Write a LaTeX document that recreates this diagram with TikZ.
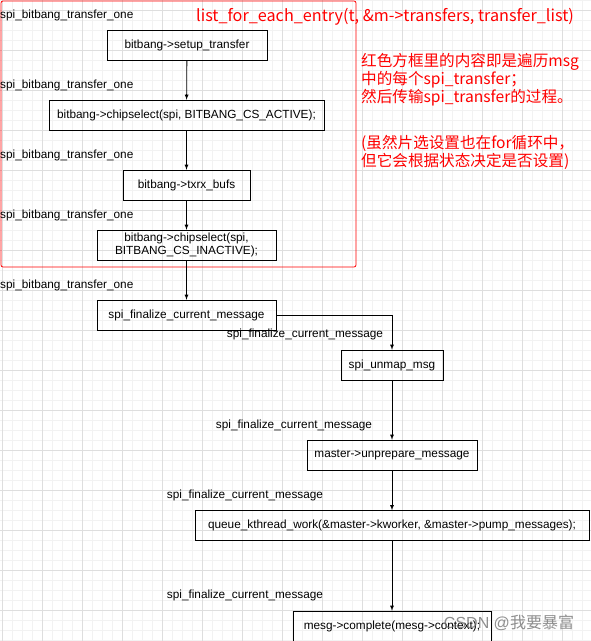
\documentclass[tikz,border=0pt]{standalone}
\usepackage{fontspec}
\setmainfont{Liberation Sans}
\newfontfamily\cjk{Noto Sans CJK SC}
\usepackage{tikz}

\begin{document}
\begin{tikzpicture}[>=latex,x=1pt,y=-1pt]
	\tikzstyle{blk}=[draw=black,rectangle,minimum height=30pt,inner sep=2pt,font=\fontsize{11.8}{13}\selectfont]
	\tikzstyle{lbl}=[inner sep=0pt,font=\fontsize{11.8}{13}\selectfont]
	\tikzstyle{note}=[text=red,inner sep=0pt,font=\cjk\fontsize{15.6}{18}\selectfont]

	\useasboundingbox (0,0) rectangle (591,641);
	\fill[white] (0,0) rectangle (591,641);

	% grid
	\foreach \i in {0,...,59} {
		\draw[black!5,line width=0.6pt] (2.3+10*\i,0) -- (2.3+10*\i,641);
	}
	\foreach \i in {0,...,64} {
		\draw[black!5,line width=0.6pt] (0,0.7+10*\i) -- (591,0.7+10*\i);
	}
	\foreach \i in {0,...,14} {
		\draw[black!13,line width=0.7pt] (2.3+40*\i,0) -- (2.3+40*\i,641);
	}
	\foreach \i in {0,...,15} {
		\draw[black!13,line width=0.7pt] (0,10.7+40*\i) -- (591,10.7+40*\i);
	}

	% red frame
	\draw[red,line width=0.8pt,rounded corners=2pt] (1,1) rectangle (356,267);
	\node[note,anchor=west,font=\cjk\fontsize{16.2}{18}\selectfont] (title) at (196,17) {list\_for\_each\_entry(t, \&m->transfers, transfer\_list)};
	\node[note,anchor=north west,align=left] (expl) at (361,53)
	{
		红色方框里的内容即是遍历msg\\
		中的每个spi\_transfer；\\
		然后传输spi\_transfer的过程。
	};
	\node[note,anchor=north west,align=left] (remark) at (361,135)
	{
		(虽然片选设置也在for循环中，\\
		但它会根据状态决定是否设置)
	};

	\node[blk,minimum width=160pt] (SETUP) at (187,45) {bitbang->setup\_transfer};
	\node[blk,minimum width=275pt] (CSA) at (186.5,115) {bitbang->chipselect(spi, BITBANG\_CS\_ACTIVE);};
	\node[blk,minimum width=127pt] (TXRX) at (186.5,185) {bitbang->txrx\_bufs};
	\node[blk,minimum width=179pt,align=center,font=\fontsize{11.8}{12.5}\selectfont] (CSI) at (186.5,245) {bitbang->chipselect(spi,\\ BITBANG\_CS\_INACTIVE);};
	\node[blk,minimum width=179pt] (FIN) at (186.5,315) {spi\_finalize\_current\_message};
	\node[blk,minimum width=102pt] (UNMAP) at (392,365) {spi\_unmap\_msg};
	\node[blk,minimum width=170pt] (UNPREP) at (392,455) {master->unprepare\_message};
	\node[blk,minimum width=394pt] (QUEUE) at (392,525.5) {queue\_kthread\_work(\&master->kworker, \&master->pump\_messages);};
	\node[blk,minimum width=198pt] (DONE) at (392,626) {mesg->complete(mesg->context);};

	\node[lbl,anchor=west] (L1) at (0,15) {spi\_bitbang\_transfer\_one};
	\node[lbl,anchor=west] (L2) at (0,85) {spi\_bitbang\_transfer\_one};
	\node[lbl,anchor=west] (L3) at (0,155) {spi\_bitbang\_transfer\_one};
	\node[lbl,anchor=west] (L4) at (0,215) {spi\_bitbang\_transfer\_one};
	\node[lbl,anchor=west] (L5) at (0,285) {spi\_bitbang\_transfer\_one};
	\node[lbl] (L6) at (305,334) {spi\_finalize\_current\_message};
	\node[lbl] (L7) at (294,425) {spi\_finalize\_current\_message};
	\node[lbl] (L8) at (245,495) {spi\_finalize\_current\_message};
	\node[lbl] (L9) at (245,595) {spi\_finalize\_current\_message};

	\path (SETUP) edge[->,thick] (CSA);
	\path (CSA) edge[->,thick] (TXRX);
	\path (TXRX) edge[->,thick] (CSI);
	\path (CSI) edge[->,thick] (FIN);
	\draw[->,thick] (FIN.east) -| (UNMAP.north);
	\path (UNMAP) edge[->,thick] (UNPREP);
	\path (UNPREP) edge[->,thick] (QUEUE);
	\path (QUEUE) edge[->,thick] (DONE);

	\node[text=black!55,opacity=0.8,font=\fontsize{16}{16}\selectfont] (WM) at (509,623) {CSDN @{\cjk 我要暴富}};
\end{tikzpicture}
\end{document}
